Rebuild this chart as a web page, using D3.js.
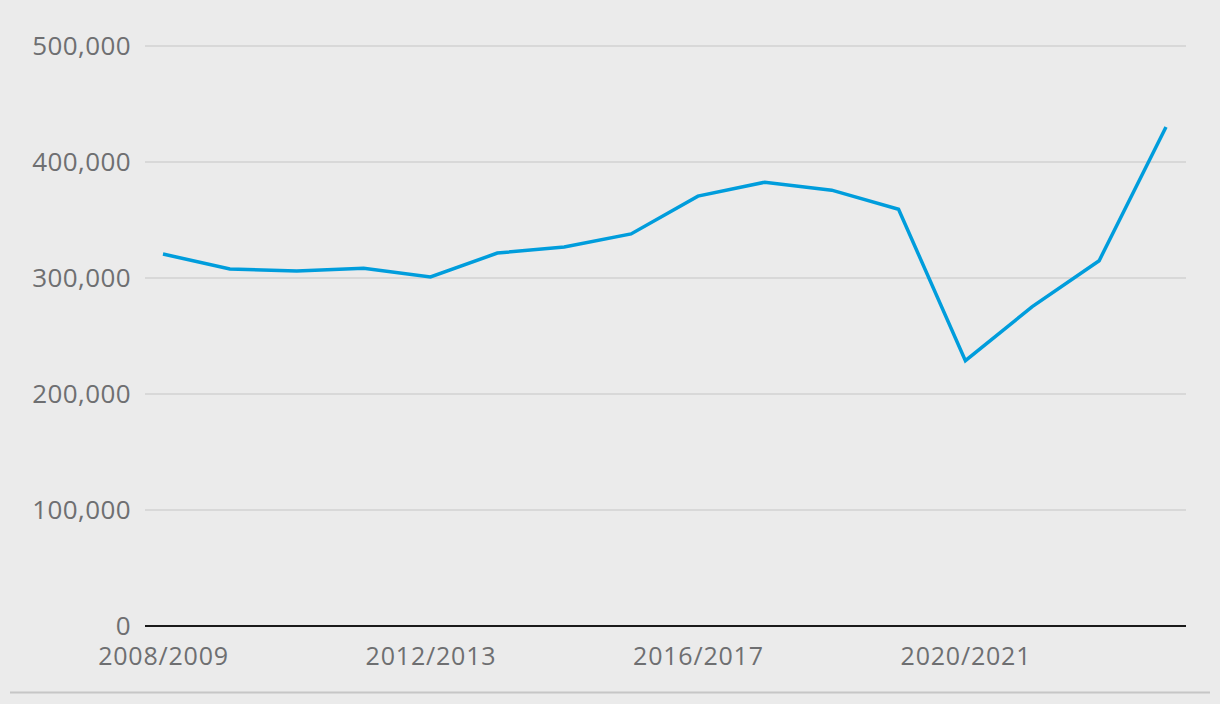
<!DOCTYPE html>
<html>
<head>
<meta charset="utf-8">
<script src="https://cdn.jsdelivr.net/npm/d3@7"></script>
<style>
html,body{margin:0;padding:0;background:#ebebeb;}
svg{display:block;}
</style>
</head>
<body>
<svg id="chart" width="1220" height="704"></svg>
<script>
const categories = ["2008/2009","2009/2010","2010/2011","2011/2012","2012/2013","2013/2014","2014/2015","2015/2016","2016/2017","2017/2018","2018/2019","2019/2020","2020/2021","2021/2022","2022/2023","2023/2024"];
const values = [320700,307700,306000,308400,300900,321500,326700,338000,370600,382600,375700,359300,228800,275300,314900,430200];
const yTicks = [0,100000,200000,300000,400000,500000];
const xTickLabels = ["2008/2009","2012/2013","2016/2017","2020/2021"];

const svg = d3.select("#chart");
const W = 1220, H = 704;
svg.append("rect").attr("width",W).attr("height",H).attr("fill","#ebebeb");

const plotLeft = 145, plotRight = 1186;
const x = d3.scalePoint().domain(categories).range([163,1166]);
const y = d3.scaleLinear().domain([0,500000]).range([626,46]);

const fmt = d3.format(",");
const font = "'Open Sans', sans-serif";

// gridlines
svg.append("g").selectAll("line").data(yTicks.filter(d=>d>0)).join("line")
  .attr("x1",plotLeft).attr("x2",plotRight)
  .attr("y1",d=>y(d)).attr("y2",d=>y(d))
  .attr("stroke","#d2d2d2").attr("stroke-width",1.5);

// y labels
svg.append("g").selectAll("text").data(yTicks).join("text")
  .attr("x",131).attr("y",d=>y(d)).attr("dy","0.35em")
  .attr("text-anchor","end")
  .attr("font-family",font).attr("font-size",26)
  .attr("letter-spacing","0.4px")
  .attr("fill","#6e6f71")
  .text(d=>fmt(d));

// zero axis
svg.append("line").attr("x1",plotLeft).attr("x2",plotRight)
  .attr("y1",y(0)).attr("y2",y(0))
  .attr("stroke","#1a1a1a").attr("stroke-width",2);

// x labels
svg.append("g").selectAll("text").data(xTickLabels).join("text")
  .attr("x",d=>x(d)+0.5).attr("y",665)
  .attr("text-anchor","middle")
  .attr("font-family",font).attr("font-size",25)
  .attr("letter-spacing","0.8px")
  .attr("fill","#6e6f71")
  .text(d=>d);

// line
const line = d3.line().x((d,i)=>x(categories[i])).y(d=>y(d));
svg.append("path").datum(values)
  .attr("d",line).attr("fill","none")
  .attr("stroke","#009ddc").attr("stroke-width",3.5)
  .attr("stroke-linejoin","miter");

// bottom rule
svg.append("line").attr("x1",10).attr("x2",1210)
  .attr("y1",692.5).attr("y2",692.5)
  .attr("stroke","#c6c6c6").attr("stroke-width",2);
</script>
</body>
</html>
